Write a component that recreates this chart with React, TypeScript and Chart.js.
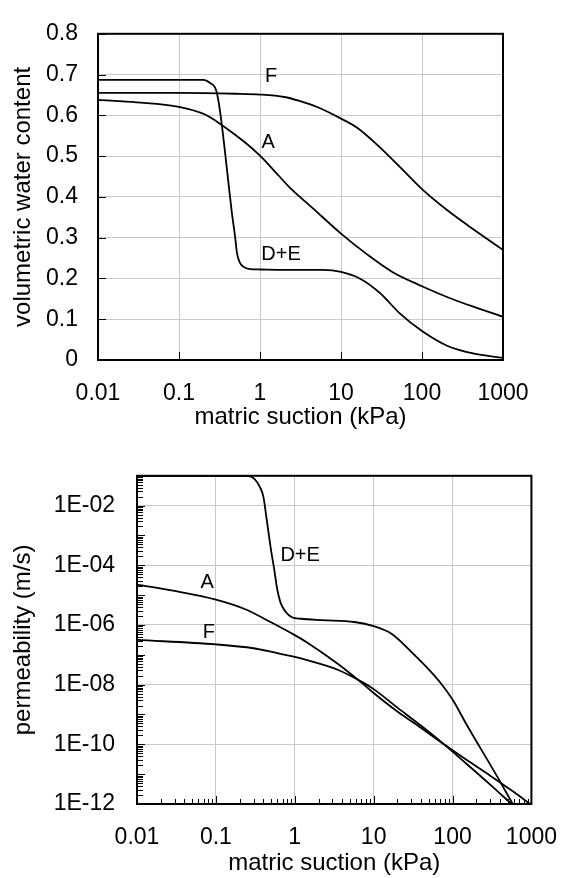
import React, { useEffect, useRef } from 'react';
import { Chart, registerables } from 'chart.js';

Chart.register(...registerables);

const FONT_FAMILY = "'Liberation Sans', Arial, Helvetica, sans-serif";
const TICK_FONT = 23;
const TITLE_FONT = 24;
const LABEL_FONT = 20;
const GRID_COLOR = '#c8c8c8';

// ---------- shared x axis: matric suction (kPa)
const suctionTicks = [0.01, 0.1, 1, 10, 100, 1000];
const suctionTickLabels = ['0.01', '0.1', '1', '10', '100', '1000'];
const minorMantissas = [2, 3, 4, 5, 6, 7, 8, 9];

// ---------- top chart: volumetric water content
const wcTicks = [0, 0.1, 0.2, 0.3, 0.4, 0.5, 0.6, 0.7, 0.8];
const wcTickLabels = ['0', '0.1', '0.2', '0.3', '0.4', '0.5', '0.6', '0.7', '0.8'];

const wcSuctionF = [0.01, 0.1, 0.5, 1, 2, 3, 5, 10, 16, 30, 60, 100, 200, 400, 1000];
const wcF = [0.655, 0.655, 0.653, 0.651, 0.645, 0.636, 0.621, 0.592, 0.569, 0.522, 0.463, 0.419, 0.369, 0.325, 0.27];

const wcSuctionA = [0.01, 0.03, 0.1, 0.21, 0.34, 0.65, 1, 1.5, 2.3, 4.5, 10, 21, 43, 100, 240, 525, 1000];
const wcA = [0.638, 0.632, 0.621, 0.602, 0.576, 0.534, 0.501, 0.464, 0.424, 0.372, 0.31, 0.259, 0.216, 0.181, 0.149, 0.125, 0.106];

const wcSuctionDE = [0.01, 0.1, 0.2, 0.24, 0.29, 0.32, 0.37, 0.41, 0.45, 0.49, 0.52, 0.56, 0.62, 0.75, 1, 1.9, 6, 10, 17, 30, 54, 100, 204, 426, 1000];
const wcDE = [0.687, 0.687, 0.687, 0.68, 0.659, 0.612, 0.51, 0.43, 0.36, 0.306, 0.262, 0.24, 0.229, 0.223, 0.222, 0.221, 0.221, 0.216, 0.2, 0.165, 0.113, 0.071, 0.035, 0.016, 0.005];

const wcLabelText = ['F', 'A', 'D+E'];
const wcLabelSuction = [1.37, 1.26, 1.82];
const wcLabelValue = [0.696, 0.534, 0.259];

// ---------- bottom chart: permeability (m/s)
const permDecades = [1e-12, 1e-11, 1e-10, 1e-9, 1e-8, 1e-7, 1e-6, 1e-5, 1e-4, 1e-3, 1e-2];
const permTicks = [1e-12, 1e-10, 1e-8, 1e-6, 1e-4, 1e-2];
const permTickLabels = ['1E-12', '1E-10', '1E-08', '1E-06', '1E-04', '1E-02'];

const kSuctionDE = [0.01, 0.1, 0.25, 0.31, 0.36, 0.4, 0.435, 0.5, 0.55, 0.6, 0.66, 0.76, 0.92, 1.2, 2.2, 5.7, 10, 17, 30, 53, 71, 100, 148, 372, 580];
const kDE = [1e-1, 1e-1, 1e-1, 7.76e-2, 4.27e-2, 2.0e-2, 4.37e-3, 3.24e-4, 7.08e-5, 1.55e-5, 5.62e-6, 2.82e-6, 1.82e-6, 1.62e-6, 1.45e-6, 1.26e-6, 9.12e-7, 5.01e-7, 1.26e-7, 2.75e-8, 1.12e-8, 3.16e-9, 5.01e-10, 7.94e-12, 1e-12];

const kSuctionA = [0.01, 0.03, 0.1, 0.24, 0.5, 1, 1.4, 3.5, 7, 10, 20, 40, 78, 150, 300, 600, 960];
const kA = [2.24e-5, 1.38e-5, 7.08e-6, 3.31e-6, 1.23e-6, 4.57e-7, 2.69e-7, 5.01e-8, 1.17e-8, 5.25e-9, 1.26e-9, 3.55e-10, 1e-10, 3.02e-11, 8.91e-12, 2.51e-12, 1e-12];

const kSuctionF = [0.01, 0.1, 0.3, 0.55, 1, 1.4, 3.5, 7, 10, 20, 40, 78, 150, 300, 560];
const kF = [3.16e-7, 2.24e-7, 1.66e-7, 1.2e-7, 8.51e-8, 6.76e-8, 3.16e-8, 1.26e-8, 7.08e-9, 1.7e-9, 4.17e-10, 1e-10, 2.24e-11, 4.47e-12, 1e-12];

const kLabelText = ['D+E', 'A', 'F'];
const kLabelSuction = [1.17, 0.0773, 0.0817];
const kLabelValue = [2.2e-4, 2.6e-5, 5.8e-7];

// ---------- helpers
const sameLog = (a: number, b: number) => Math.abs(Math.log10(a) - Math.log10(b)) < 1e-6;
const isIn = (v: number, arr: number[]) => arr.some((t) => sameLog(v, t));

function logLabeler(ticks: number[], labels: string[]) {
  return (value: any) => {
    const v = Number(value);
    for (let i = 0; i < ticks.length; i++) if (sameLog(v, ticks[i])) return labels[i];
    return '';
  };
}

function withMinors(decadeStarts: number[], last: number) {
  const out: number[] = [];
  decadeStarts.forEach((d) => {
    out.push(d);
    minorMantissas.forEach((m) => out.push(d * m));
  });
  out.push(last);
  return out;
}

function series(xs: number[], ys: number[]) {
  return {
    data: xs.map((x, i) => ({ x, y: ys[i] })),
    showLine: true,
    borderColor: '#000',
    borderWidth: 1.8,
    pointRadius: 0,
    fill: false,
    cubicInterpolationMode: 'monotone' as const,
  };
}

type FrameCfg = {
  xMajor: number[];
  xMinor: number[];
  yMajor: number[];
  yMinor: number[];
  labels: { text: string; x: number; y: number }[];
};

function framePlugin(cfg: FrameCfg) {
  return {
    id: 'frame',
    afterDatasetsDraw(chart: any) {
      const { ctx, chartArea: a, scales } = chart;
      const xs = scales.x;
      const ys = scales.y;
      ctx.save();
      ctx.strokeStyle = '#000';
      ctx.lineWidth = 1;
      const vline = (v: number, len: number) => {
        const px = Math.round(xs.getPixelForValue(v)) + 0.5;
        ctx.beginPath();
        ctx.moveTo(px, a.bottom);
        ctx.lineTo(px, a.bottom - len);
        ctx.stroke();
      };
      const hline = (v: number, len: number) => {
        const py = Math.round(ys.getPixelForValue(v)) + 0.5;
        ctx.beginPath();
        ctx.moveTo(a.left, py);
        ctx.lineTo(a.left + len, py);
        ctx.stroke();
      };
      cfg.xMinor.forEach((v) => vline(v, 5));
      cfg.xMajor.forEach((v) => vline(v, 8));
      cfg.yMinor.forEach((v) => hline(v, 6));
      cfg.yMajor.forEach((v) => hline(v, 8));
      ctx.lineWidth = 2;
      ctx.strokeRect(a.left, a.top, a.right - a.left, a.bottom - a.top);
      ctx.fillStyle = '#000';
      ctx.font = `${LABEL_FONT}px ${FONT_FAMILY}`;
      ctx.textAlign = 'center';
      ctx.textBaseline = 'middle';
      cfg.labels.forEach((l) => {
        ctx.fillText(l.text, xs.getPixelForValue(l.x), ys.getPixelForValue(l.y));
      });
      ctx.restore();
    },
  };
}

function xAxis(allTicks: number[], axisHeight: number, titlePadBottom: number) {
  return {
    type: 'logarithmic',
    position: 'bottom',
    min: 0.01,
    max: 1000,
    afterBuildTicks: (s: any) => {
      s.ticks = allTicks.map((v) => ({ value: v }));
    },
    afterFit: (s: any) => {
      s.height = axisHeight;
    },
    ticks: {
      autoSkip: false,
      maxRotation: 0,
      minRotation: 0,
      padding: 20,
      color: '#000',
      font: { family: FONT_FAMILY, size: TICK_FONT },
      callback: logLabeler(suctionTicks, suctionTickLabels),
    },
    grid: {
      drawTicks: false,
      lineWidth: 1,
      color: (c: any) => (c.tick && isIn(c.tick.value, suctionTicks) ? GRID_COLOR : 'rgba(0,0,0,0)'),
    },
    border: { display: false },
    title: {
      display: true,
      text: 'matric suction (kPa)',
      color: '#000',
      font: { family: FONT_FAMILY, size: TITLE_FONT },
      padding: { top: 0, bottom: titlePadBottom },
    },
  };
}

function yTitle(text: string) {
  return {
    display: true,
    text,
    color: '#000',
    font: { family: FONT_FAMILY, size: TITLE_FONT },
    padding: { top: 9, bottom: 0 },
  };
}

function WaterContentChart() {
  const ref = useRef<HTMLCanvasElement | null>(null);
  useEffect(() => {
    if (!ref.current) return;
    const chart = new Chart(ref.current, {
      type: 'scatter',
      data: {
        datasets: [series(wcSuctionF, wcF), series(wcSuctionA, wcA), series(wcSuctionDE, wcDE)],
      },
      options: {
        animation: false,
        responsive: false,
        events: [],
        layout: { padding: { left: 0, top: 20, right: 74, bottom: 5 } },
        plugins: { legend: { display: false }, tooltip: { enabled: false } },
        scales: {
          x: xAxis(suctionTicks, 75, 3) as any,
          y: {
            type: 'linear',
            min: 0,
            max: 0.8,
            afterBuildTicks: (s: any) => {
              s.ticks = wcTicks.map((v) => ({ value: v }));
            },
            afterFit: (s: any) => {
              s.width = 98;
            },
            ticks: {
              autoSkip: false,
              padding: 20,
              color: '#000',
              font: { family: FONT_FAMILY, size: TICK_FONT },
              callback: (value: any) => {
                const i = wcTicks.findIndex((t) => Math.abs(t - Number(value)) < 1e-9);
                return i >= 0 ? wcTickLabels[i] : '';
              },
            },
            grid: { drawTicks: false, lineWidth: 1, color: GRID_COLOR },
            border: { display: false },
            title: yTitle('volumetric water content'),
          },
        },
      },
      plugins: [
        framePlugin({
          xMajor: suctionTicks,
          xMinor: [],
          yMajor: wcTicks,
          yMinor: [],
          labels: wcLabelText.map((t, i) => ({ text: t, x: wcLabelSuction[i], y: wcLabelValue[i] })),
        }),
      ],
    } as any);
    return () => chart.destroy();
  }, []);
  return <canvas ref={ref} width={577} height={440} style={{ display: 'block', width: 577, height: 440 }} />;
}

function PermeabilityChart() {
  const ref = useRef<HTMLCanvasElement | null>(null);
  useEffect(() => {
    if (!ref.current) return;
    const xAll = withMinors(suctionTicks.slice(0, -1), 1000);
    const yAll = withMinors(permDecades, 1e-1);
    const chart = new Chart(ref.current, {
      type: 'scatter',
      data: {
        datasets: [series(kSuctionDE, kDE), series(kSuctionA, kA), series(kSuctionF, kF)],
      },
      options: {
        animation: false,
        responsive: false,
        events: [],
        layout: { padding: { left: 0, top: 32, right: 29, bottom: 0 } },
        plugins: { legend: { display: false }, tooltip: { enabled: false } },
        scales: {
          x: xAxis(xAll, 74, 0) as any,
          y: {
            type: 'logarithmic',
            min: 1e-12,
            max: 1e-1,
            afterBuildTicks: (s: any) => {
              s.ticks = yAll.map((v) => ({ value: v }));
            },
            afterFit: (s: any) => {
              s.width = 137;
            },
            ticks: {
              autoSkip: false,
              padding: 22,
              color: '#000',
              font: { family: FONT_FAMILY, size: TICK_FONT },
              callback: logLabeler(permTicks, permTickLabels),
            },
            grid: {
              drawTicks: false,
              lineWidth: 1,
              color: (c: any) => (c.tick && isIn(c.tick.value, permTicks) ? GRID_COLOR : 'rgba(0,0,0,0)'),
            },
            border: { display: false },
            title: yTitle('permeability (m/s)'),
          },
        },
      },
      plugins: [
        framePlugin({
          xMajor: suctionTicks,
          xMinor: xAll.filter((v) => !isIn(v, suctionTicks)),
          yMajor: permDecades,
          yMinor: yAll.filter((v) => !isIn(v, permDecades) && !sameLog(v, 1e-1)),
          labels: kLabelText.map((t, i) => ({ text: t, x: kLabelSuction[i], y: kLabelValue[i] })),
        }),
      ],
    } as any);
    return () => chart.destroy();
  }, []);
  return <canvas ref={ref} width={577} height={438} style={{ display: 'block', width: 577, height: 438 }} />;
}

export default function App() {
  return (
    <div style={{ position: 'absolute', left: 0, top: 0, width: 577, height: 878, background: '#fff' }}>
      <WaterContentChart />
      <PermeabilityChart />
    </div>
  );
}
